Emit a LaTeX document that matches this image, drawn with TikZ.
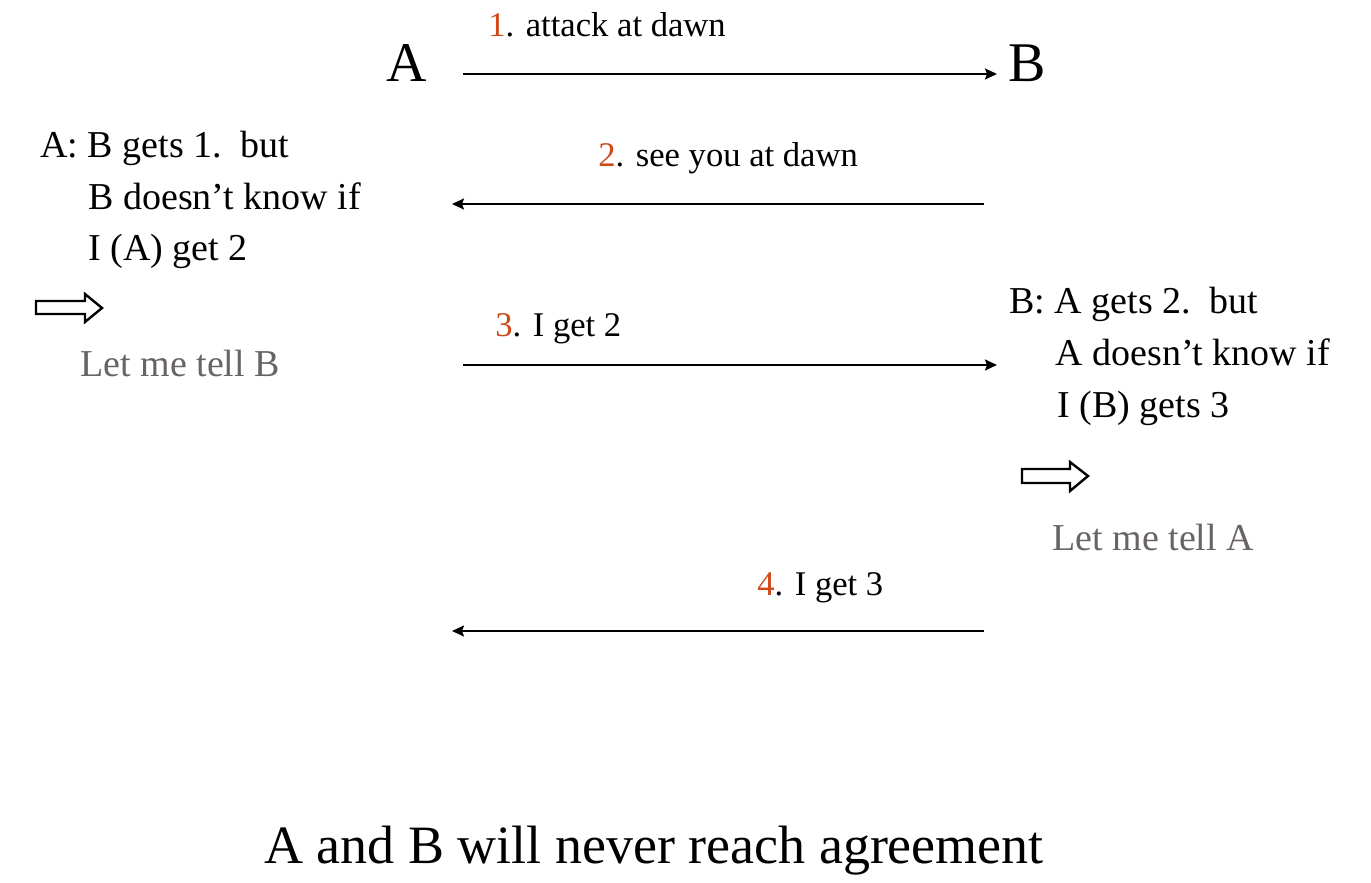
\documentclass[tikz,border=0pt]{standalone}
\usepackage{fontspec}
\setmainfont{Liberation Serif}
\usetikzlibrary{arrows.meta}
\definecolor{numred}{RGB}{208,72,24}
\definecolor{tellgray}{RGB}{105,100,100}
\begin{document}
\begin{tikzpicture}[x=0.5pt,y=-0.5pt,
    party/.style={inner sep=0pt,anchor=base,font=\fontsize{28}{32}\selectfont},
    msg/.style={inner sep=0pt,anchor=base west,font=\fontsize{17.3}{20}\selectfont},
    note/.style={inner sep=0pt,anchor=base west,font=\fontsize{19}{23}\selectfont},
    tell/.style={note,text=tellgray},
    send/.style={line width=1pt,-{Stealth[length=6pt,width=5.5pt,inset=1pt]}},
    hollow/.style={line width=1.2pt,fill=white}]
  \useasboundingbox (0,0) rectangle (1371,883);
  % the two generals
  \node[party] (A) at (407,82) {A};
  \node[party] (B) at (1027,82) {B};
  % end points of the messages
  \coordinate (A1) at (463,74);  \coordinate (B1) at (997,74);
  \coordinate (B2) at (984,204); \coordinate (A2) at (452,204);
  \coordinate (A3) at (463,365); \coordinate (B3) at (997,365);
  \coordinate (B4) at (984,631); \coordinate (A4) at (452,631);
  \draw[send] (A1) -- (B1);
  \draw[send] (B2) -- (A2);
  \draw[send] (A3) -- (B3);
  \draw[send] (B4) -- (A4);
  \node[msg] (m1) at (488,37)  {{\color{numred}1}. attack at dawn};
  \node[msg] (m2) at (598,167) {{\color{numred}2}. see you at dawn};
  \node[msg] (m3) at (495,336) {{\color{numred}3}. I get 2};
  \node[msg] (m4) at (757,595) {{\color{numred}4}. I get 3};
  % what A knows
  \node[note] (a1) at (40,157) {A: B gets 1.\ \ but};
  \node[note] (a2) at (88,209) {B doesn’t know if};
  \node[note] (a3) at (88,260) {I (A) get 2};
  \draw[hollow] (36,301) -- (85,301) -- (85,294) -- (102,308) -- (85,322)
    -- (85,314) -- (36,314) -- cycle;
  \node[tell] (ta) at (80,376) {Let me tell B};
  % what B knows
  \node[note] (b1) at (1009,313) {B: A gets 2.\ \ but};
  \node[note] (b2) at (1055,365) {A doesn’t know if};
  \node[note] (b3) at (1057,417) {I (B) gets 3};
  \draw[hollow] (1022,469) -- (1070,469) -- (1070,462) -- (1088,476)
    -- (1070,491) -- (1070,483) -- (1022,483) -- cycle;
  \node[tell] (tb) at (1052,550) {Let me tell A};
  % conclusion
  \node[inner sep=0pt,anchor=base,font=\fontsize{27}{32}\selectfont] (end)
    at (654,863) {A and B will never reach agreement};
\end{tikzpicture}
\end{document}
